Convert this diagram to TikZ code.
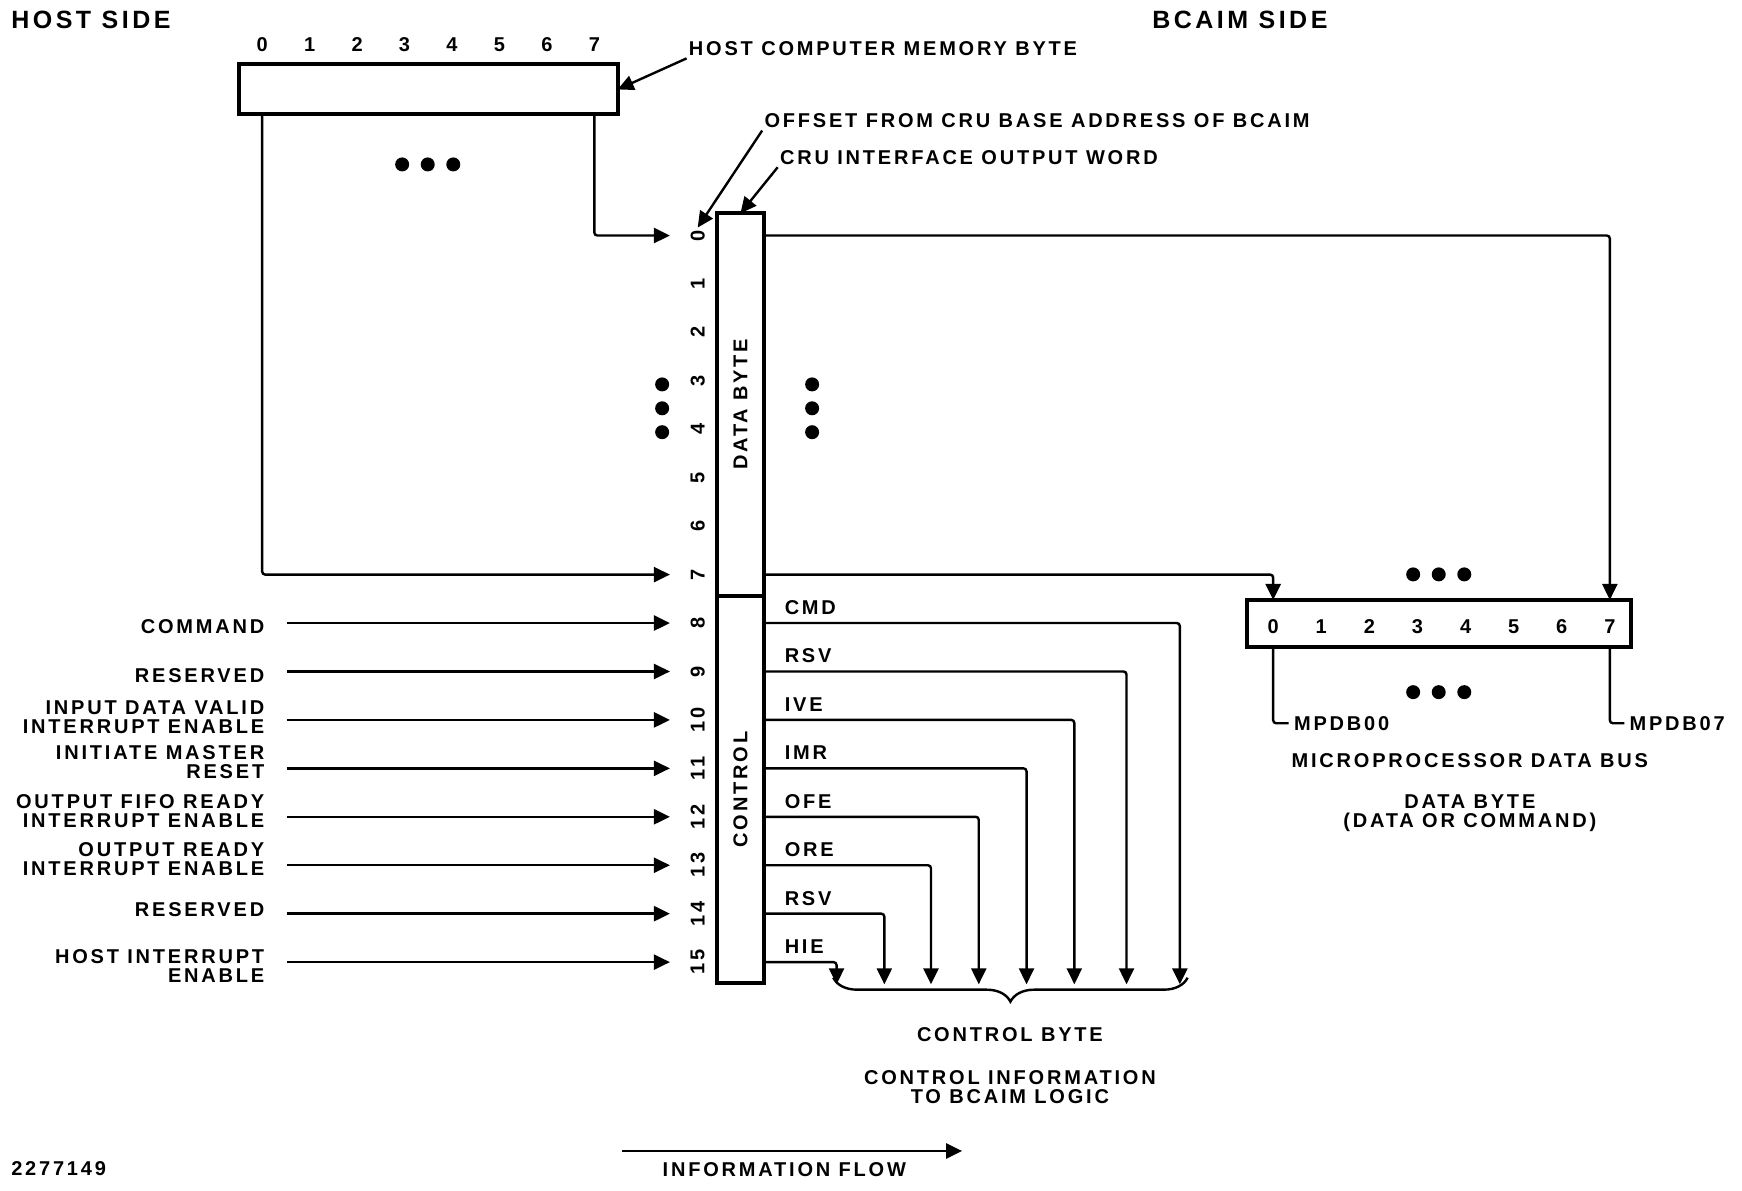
\documentclass[tikz,border=0pt]{standalone}
\usepackage{fontspec}
\setmainfont{Liberation Sans}[LetterSpace=14]
\usetikzlibrary{arrows.meta,positioning,decorations.pathreplacing}

\tikzset{
	regbox/.style={draw,line width=2pt,inner sep=0pt,outer sep=0pt},
	wire/.style={line width=1.2pt,rounded corners=1.5pt},
	txt/.style={font=\fontsize{10}{9.5}\selectfont\bfseries,inner sep=1pt},
	bignote/.style={font=\fontsize{12.5}{14}\selectfont\bfseries,inner sep=1pt},
	bitno/.style={txt,rotate=90},
	blob/.style={circle,fill,inner sep=0pt,minimum size=7pt},
}

\begin{document}
\begin{tikzpicture}[x=0.5555pt,y=-0.5555pt,>={Triangle[length=8pt,width=7.5pt]}]
	\useasboundingbox (0,0) rectangle (1568,1072);
	% headings
	\node[bignote,anchor=west] (hostside) at (8,18) {HOST SIDE};
	\node[bignote] (bcaimside) at (1116,18) {BCAIM SIDE};

	% host memory byte
	\node[regbox,minimum width=189.4pt,minimum height=25pt] (hostbyte) at (385.5,80.5) {};
	\foreach \b in {0,...,7}
		\node[txt] (hd\b) at ({236+42.71*\b},40) {\b};
	\node[txt,anchor=west] (hostlbl) at (618,44) {HOST COMPUTER MEMORY BYTE};
	\draw[wire,->] (hostlbl.south west) -- (hostbyte.east);
	\foreach \x in {362,385,408}
		\node[blob] (hdot\x) at (\x,148) {};

	% cru interface output word
	\node[regbox,minimum width=23.9pt,minimum height=191.1pt,anchor=north] (databox) at (666.5,192) {};
	\node[regbox,minimum width=23.9pt,minimum height=193.9pt,anchor=north] (ctrlbox) at (databox.south) {};
	\node[txt,rotate=90] (datalbl) at (databox) {DATA BYTE};
	\node[txt,rotate=90] (ctrllbl) at (ctrlbox) {CONTROL};
	\foreach \b in {0,...,15} {
		\node[bitno] (cd\b) at (628,{212+43.6*\b}) {\b};
		\coordinate (cin\b) at (603,{212+43.6*\b});
	}
	\foreach \y in {346,367.5,389} {
		\node[blob] (ldot\y) at (596,\y) {};
		\node[blob] (rdot\y) at (731,\y) {};
	}
	\node[txt,anchor=west] (offlbl) at (686,109) {OFFSET FROM CRU BASE ADDRESS OF BCAIM};
	\node[txt,anchor=west] (crulbl) at (700,142) {CRU INTERFACE OUTPUT WORD};
	\draw[wire,->] (offlbl.south west) -- (cd0.east);
	\draw[wire,->] (crulbl.south west) -- (databox.north);

	% data byte from host
	\draw[wire,->] (hostbyte.south -| hd7) |- (cin0);
	\draw[wire,->] (hostbyte.south -| hd0) |- (cin7);

	% control bits from host
	\foreach \b/\y/\what in {8/564/COMMAND, 9/608/RESERVED,
			10/645.5/{INPUT DATA VALID\\INTERRUPT ENABLE},
			11/686/{INITIATE MASTER\\RESET},
			12/730.5/{OUTPUT FIFO READY\\INTERRUPT ENABLE},
			13/773/{OUTPUT READY\\INTERRUPT ENABLE},
			14/819/RESERVED, 15/869.5/{HOST INTERRUPT\\ENABLE}} {
		\node[txt,anchor=east,align=right] (in\b) at (240,\y) {\what};
		\draw[wire,->] ([xshift=10pt]in\b.east |- cin\b) -- (cin\b);
	}

	% control byte to bcaim logic
	\foreach \b/\x/\sig in {8/1062/CMD, 9/1014/RSV, 10/967/IVE, 11/924/IMR,
			12/881/OFE, 13/838/ORE, 14/796/RSV, 15/753/HIE} {
		\coordinate (cout\b) at (\x,886);
		\draw[wire,->] (ctrlbox.east |- cin\b) -| (cout\b);
		\node[txt,anchor=south west] (sig\b) at ([xshift=9pt,yshift=3pt]ctrlbox.east |- cin\b) {\sig};
	}
	\coordinate (braceL) at (750,880);
	\coordinate (braceR) at (1069,880);
	\draw[line width=1.2pt,decorate,decoration={brace,mirror,amplitude=12pt}] (braceL) -- (braceR);
	\node[txt] (ctrlbyte) at (909,931) {CONTROL BYTE};
	\node[txt,align=center] (ctrlinfo) at (909,978.5) {CONTROL INFORMATION\\TO BCAIM LOGIC};

	% microprocessor data bus
	\node[regbox,minimum width=192.2pt,minimum height=23.3pt] (mpbyte) at (1295,561) {};
	\foreach \b in {0,...,7}
		\node[txt] (md\b) at ({1146+43.29*\b},564) {\b};
	\draw[wire,->] (databox.east |- cin0) -| (mpbyte.north -| md7);
	\draw[wire,->] (databox.east |- cin7) -| (mpbyte.north -| md0);
	\foreach \x in {1272,1295,1318} {
		\node[blob] (tdot\x) at (\x,517) {};
		\node[blob] (bdot\x) at (\x,623) {};
	}
	\node[txt,anchor=west,inner sep=2.5pt] (mpdb0) at (1160,651) {MPDB00};
	\node[txt,anchor=west,inner sep=2.5pt] (mpdb7) at (1462,651) {MPDB07};
	\draw[wire] (mpbyte.south -| md0) |- (mpdb0.west);
	\draw[wire] (mpbyte.south -| md7) |- (mpdb7.west);
	\node[txt] (mpbus) at (1323,685) {MICROPROCESSOR DATA BUS};
	\node[txt,align=center,below=11pt of mpbus] (mpdata) {DATA BYTE\\(DATA OR COMMAND)};

	% legend
	\node[txt,anchor=west] (figno) at (8,1052) {2277149};
	\node[txt] (flowlbl) at (706,1053) {INFORMATION FLOW};
	\coordinate (flowA) at (560,1036);
	\coordinate (flowB) at (866,1036);
	\draw[wire,->] (flowA) -- (flowB);
\end{tikzpicture}
\end{document}
